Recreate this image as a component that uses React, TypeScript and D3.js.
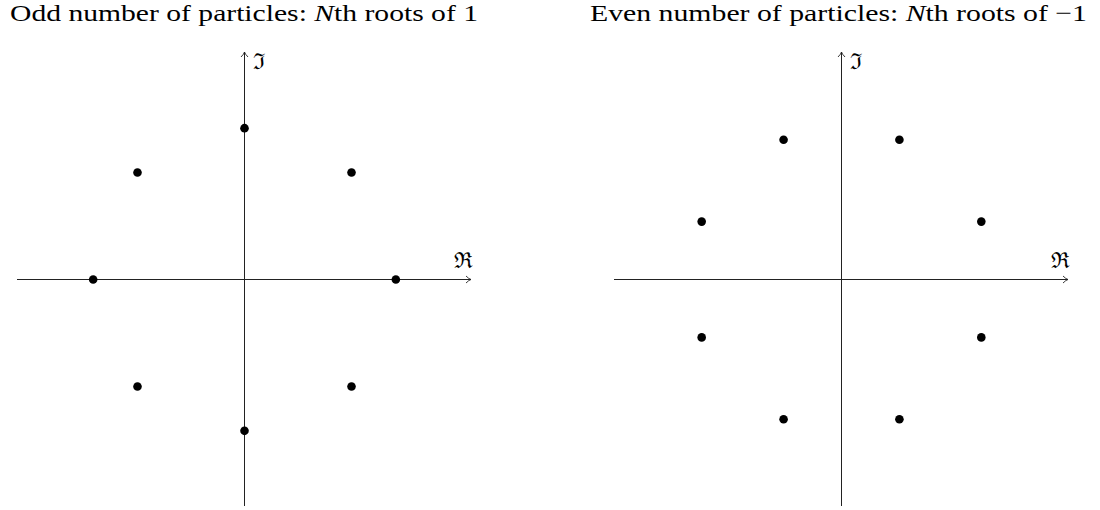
import React from "react";
import * as d3 from "d3";

// Roots of unity / roots of -1 on the unit circle (angles in degrees)
const oddRootAngles = [0, 45, 90, 135, 180, 225, 270, 315];
const evenRootAngles = [22.5, 67.5, 112.5, 157.5, 202.5, 247.5, 292.5, 337.5];

const panelTitles = ["Odd number of particles: ", "Even number of particles: "];
const titleTails = ["th roots of 1", "th roots of \u22121"];
const axisExtent = 1.5;

const W = 1100;
const H = 510;

function Panel({ cx, angles, title, tail, titleX, titleW }: any) {
  const x = d3.scaleLinear().domain([-axisExtent, axisExtent]).range([cx - 227, cx + 227]);
  const y = d3.scaleLinear().domain([-axisExtent, axisExtent]).range([279 + 227, 279 - 227]);
  const pts = angles.map((a: number) => {
    const t = (a * Math.PI) / 180;
    return [Math.cos(t), Math.sin(t)];
  });
  const x0 = x(0), y0 = y(0);
  const xr = x(axisExtent), yt = y(axisExtent);
  return (
    <g>
      <text x={titleX} y={21} fontFamily="'Liberation Serif', 'Times New Roman', serif" fontSize={24} fill="#000"
        textLength={titleW} lengthAdjust="spacingAndGlyphs">
        {title}
        <tspan fontStyle="italic">N</tspan>
        {tail}
      </text>
      {/* real axis */}
      <line x1={x(-axisExtent)} x2={xr} y1={y0 + 0.5} y2={y0 + 0.5} stroke="#222" strokeWidth={1} />
      <path d={`M${xr - 5},${y0 - 3} Q${xr - 2},${y0} ${xr},${y0 + 0.5} Q${xr - 2},${y0 + 1} ${xr - 5},${y0 + 4}`}
        fill="none" stroke="#222" strokeWidth={0.9} />
      {/* imaginary axis */}
      <line x1={x0 + 0.5} x2={x0 + 0.5} y1={y(-axisExtent)} y2={yt} stroke="#222" strokeWidth={1} />
      <path d={`M${x0 - 3},${yt + 5} Q${x0},${yt + 2} ${x0 + 0.5},${yt} Q${x0 + 1},${yt + 2} ${x0 + 4},${yt + 5}`}
        fill="none" stroke="#222" strokeWidth={0.9} />
      <text x={xr - 17} y={y0 - 11} fontFamily="'DejaVu Serif', serif" fontSize={22} fill="#000">{"\u211C"}</text>
      <text x={x0 + 9} y={yt + 17} fontFamily="'DejaVu Serif', serif" fontSize={22} fill="#000">{"\u2111"}</text>
      {pts.map((p: number[], i: number) => (
        <circle key={i} cx={x(p[0]) + 0.5} cy={y(p[1]) + 0.5} r={4.3} fill="#000" />
      ))}
    </g>
  );
}

export default function App() {
  return (
    <svg width={W} height={H} style={{ display: "block", position: "absolute", left: 0, top: 0 }}>
      <rect width={W} height={H} fill="#fff" />
      <Panel cx={244} angles={oddRootAngles} title={panelTitles[0]} tail={titleTails[0]} titleX={10} titleW={468} />
      <Panel cx={841} angles={evenRootAngles} title={panelTitles[1]} tail={titleTails[1]} titleX={590} titleW={497} />
    </svg>
  );
}
